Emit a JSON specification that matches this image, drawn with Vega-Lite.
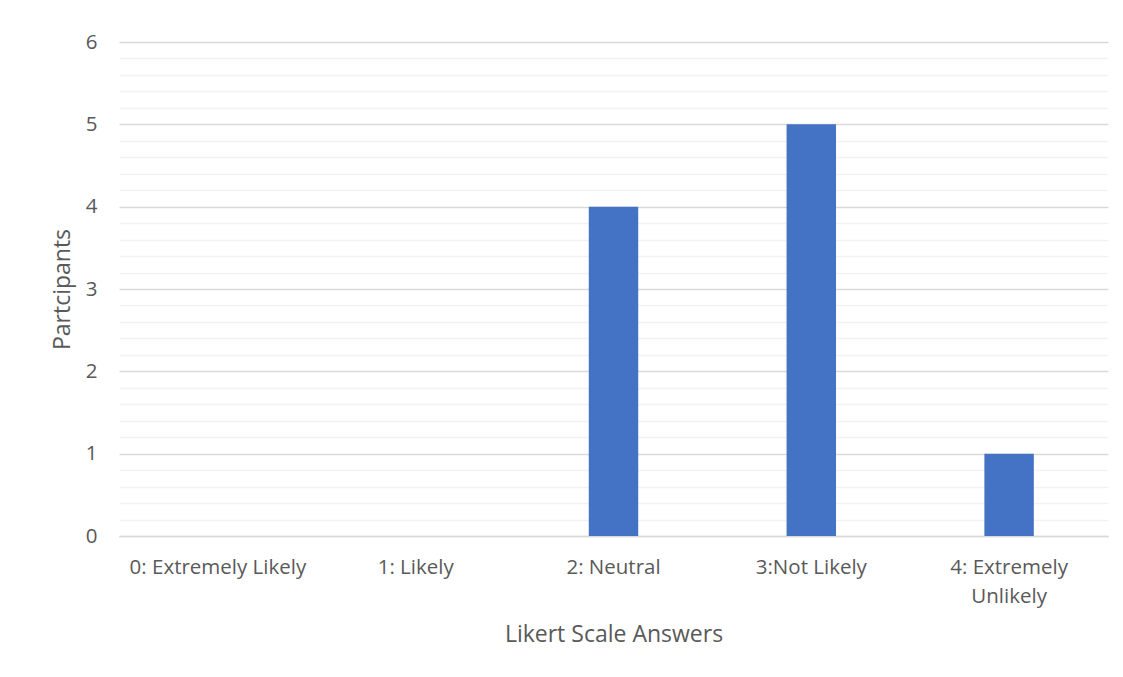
{
  "$schema": "https://vega.github.io/schema/vega-lite/v6.json",
  "autosize": "none",
  "width": 989,
  "height": 494,
  "padding": {"left": 119, "top": 42, "right": 15, "bottom": 141},
  "background": "white",
  "data": {"values": [
    {"answer": "0: Extremely Likely", "count": 0},
    {"answer": "1: Likely", "count": 0},
    {"answer": "2: Neutral", "count": 4},
    {"answer": "3:Not Likely", "count": 5},
    {"answer": "4: Extremely Unlikely", "count": 1}
  ]},
  "mark": {"type": "bar", "color": "#4472C4"},
  "encoding": {
    "x": {
      "field": "answer", "type": "nominal", "sort": null,
      "scale": {"paddingInner": 0.75, "paddingOuter": 0.375},
      "axis": {
        "title": "Likert Scale Answers",
        "labelAngle": 0,
        "labelFont": "Open Sans",
        "labelFontSize": 20.5,
        "labelColor": "#595959",
        "labelExpr": "datum.value == '4: Extremely Unlikely' ? ['4: Extremely', 'Unlikely'] : datum.value",
        "labelLineHeight": 29,
        "labelPadding": 21,
        "ticks": false,
        "domainColor": "#d9d9d9",
        "domainWidth": 1.5,
        "titleFont": "Open Sans",
        "titleFontSize": 23,
        "titleFontWeight": "normal",
        "titleColor": "#595959",
        "titlePadding": 17
      }
    },
    "y": {
      "field": "count", "type": "quantitative",
      "scale": {"domain": [0, 6], "nice": false},
      "axis": {
        "title": "Partcipants",
        "values": [0,0.2,0.4,0.6,0.8,1,1.2,1.4,1.6,1.8,2,2.2,2.4,2.6,2.8,3,3.2,3.4,3.6,3.8,4,4.2,4.4,4.6,4.8,5,5.2,5.4,5.6,5.8,6],
        "labelExpr": "datum.value === floor(datum.value) ? format(datum.value, 'd') : ''",
        "labelFont": "Open Sans",
        "labelFontSize": 20.5,
        "labelColor": "#595959",
        "gridColor": {"condition": {"test": "datum.value === floor(datum.value)", "value": "#d9d9d9"}, "value": "#f2f2f2"},
        "gridWidth": 1.5,
        "ticks": false,
        "domain": false,
        "labelPadding": 22,
        "titleFont": "Open Sans",
        "titleFontSize": 23,
        "titleFontWeight": "normal",
        "titleColor": "#595959",
        "titlePadding": 11
      }
    }
  },
  "config": {
    "view": {"stroke": null}
  }
}
